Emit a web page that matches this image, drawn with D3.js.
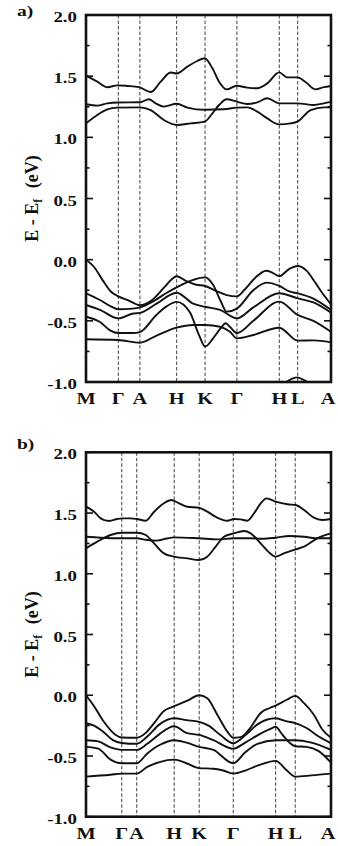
<!DOCTYPE html>
<html><head><meta charset="utf-8">
<script src="https://cdn.jsdelivr.net/npm/d3@7"></script>
<style>html,body{margin:0;padding:0;background:#fff}</style>
</head><body>
<svg id="c" width="338" height="846"></svg>
<script>
// ---------- data ----------
const kLabels = ["M","Γ","A","H","K","Γ","H","L","A"];
const kPosA = [0, 0.132, 0.220, 0.370, 0.486, 0.616, 0.789, 0.864, 1.0];
const kPosB = [0, 0.146, 0.207, 0.360, 0.462, 0.601, 0.774, 0.854, 1.0];
const yTicks = [2.0, 1.5, 1.0, 0.5, 0.0, -0.5, -1.0];
const yMinor = [1.75, 1.25, 0.75, 0.25, -0.25, -0.75];
const eRange = [-1.0, 2.0];

// panel a
const aCond3 = [[0,1.505],[0.046,1.455],[0.087,1.41],[0.128,1.425],[0.169,1.42],[0.216,1.41],[0.264,1.37],[0.305,1.455],[0.346,1.53],[0.370,1.522],[0.414,1.578],[0.454,1.624],[0.484,1.646],[0.516,1.564],[0.543,1.455],[0.574,1.392],[0.615,1.422],[0.658,1.406],[0.699,1.401],[0.740,1.441],[0.788,1.531],[0.822,1.49],[0.863,1.49],[0.897,1.45],[0.937,1.392],[0.971,1.41],[1.0,1.42]];
const aCond2 = [[0,1.27],[0.046,1.259],[0.087,1.278],[0.128,1.285],[0.220,1.287],[0.257,1.311],[0.284,1.278],[0.318,1.251],[0.370,1.274],[0.414,1.243],[0.484,1.225],[0.563,1.229],[0.615,1.243],[0.658,1.245],[0.699,1.21],[0.740,1.155],[0.788,1.106],[0.835,1.114],[0.863,1.128],[0.917,1.223],[0.971,1.245],[1.0,1.245]];
const aCond1 = [[0,1.114],[0.046,1.183],[0.087,1.229],[0.128,1.243],[0.220,1.245],[0.264,1.223],[0.318,1.142],[0.370,1.101],[0.427,1.114],[0.484,1.128],[0.516,1.196],[0.543,1.264],[0.574,1.311],[0.615,1.292],[0.658,1.272],[0.699,1.286],[0.740,1.319],[0.788,1.278],[0.863,1.278],[0.930,1.264],[0.971,1.278],[1.0,1.29]];
const aVal1 = [[0,0.0],[0.033,-0.06],[0.067,-0.165],[0.101,-0.26],[0.132,-0.30],[0.17,-0.33],[0.22,-0.372],[0.27,-0.33],[0.32,-0.225],[0.35,-0.16],[0.37,-0.135],[0.41,-0.175],[0.45,-0.205],[0.486,-0.215],[0.53,-0.255],[0.575,-0.29],[0.616,-0.30],[0.65,-0.24],[0.69,-0.15],[0.735,-0.09],[0.76,-0.105],[0.789,-0.135],[0.83,-0.075],[0.864,-0.052],[0.9,-0.09],[0.93,-0.17],[0.96,-0.26],[1.0,-0.365]];
const aVal2 = [[0,-0.275],[0.057,-0.33],[0.1,-0.38],[0.132,-0.405],[0.19,-0.40],[0.22,-0.39],[0.275,-0.34],[0.33,-0.27],[0.37,-0.226],[0.438,-0.165],[0.486,-0.145],[0.52,-0.21],[0.55,-0.34],[0.574,-0.425],[0.616,-0.40],[0.683,-0.25],[0.737,-0.188],[0.789,-0.215],[0.833,-0.262],[0.864,-0.275],[0.93,-0.32],[1.0,-0.41]];
const aVal3 = [[0,-0.37],[0.057,-0.41],[0.132,-0.48],[0.193,-0.44],[0.22,-0.435],[0.288,-0.36],[0.37,-0.27],[0.438,-0.36],[0.486,-0.385],[0.547,-0.41],[0.616,-0.48],[0.683,-0.39],[0.789,-0.275],[0.864,-0.316],[0.928,-0.35],[1.0,-0.433]];
const aVal4 = [[0,-0.466],[0.057,-0.51],[0.1,-0.58],[0.132,-0.60],[0.19,-0.60],[0.22,-0.592],[0.288,-0.45],[0.33,-0.38],[0.37,-0.345],[0.424,-0.43],[0.46,-0.61],[0.486,-0.71],[0.52,-0.64],[0.55,-0.56],[0.57,-0.52],[0.59,-0.555],[0.616,-0.60],[0.683,-0.50],[0.789,-0.343],[0.864,-0.452],[0.928,-0.50],[1.0,-0.59]];
const aVal5 = [[0,-0.651],[0.132,-0.657],[0.22,-0.679],[0.288,-0.62],[0.37,-0.556],[0.438,-0.534],[0.486,-0.534],[0.547,-0.548],[0.588,-0.59],[0.616,-0.643],[0.683,-0.616],[0.789,-0.556],[0.864,-0.662],[0.928,-0.66],[1.0,-0.676]];
const aDeep = [[0.80,-1.03],[0.83,-0.985],[0.86,-0.962],[0.89,-0.985],[0.92,-1.03]];

// panel b
const bCond3 = [[0,1.552],[0.033,1.511],[0.06,1.456],[0.094,1.434],[0.128,1.451],[0.148,1.456],[0.182,1.456],[0.207,1.451],[0.244,1.437],[0.278,1.511],[0.318,1.58],[0.348,1.607],[0.38,1.58],[0.414,1.552],[0.461,1.544],[0.495,1.511],[0.536,1.462],[0.577,1.437],[0.604,1.451],[0.631,1.448],[0.658,1.437],[0.686,1.498],[0.713,1.58],[0.737,1.621],[0.774,1.594],[0.822,1.572],[0.856,1.566],[0.89,1.525],[0.93,1.462],[0.964,1.443],[1.0,1.451]];
const bCond2 = [[0,1.209],[0.046,1.264],[0.1,1.319],[0.148,1.338],[0.207,1.338],[0.244,1.319],[0.278,1.25],[0.318,1.168],[0.359,1.141],[0.414,1.127],[0.461,1.113],[0.495,1.141],[0.529,1.223],[0.563,1.305],[0.604,1.333],[0.645,1.352],[0.672,1.333],[0.713,1.25],[0.747,1.176],[0.774,1.141],[0.808,1.168],[0.856,1.201],[0.89,1.223],[0.944,1.292],[1.0,1.333]];
const bCond1 = [[0,1.305],[0.06,1.297],[0.148,1.292],[0.207,1.292],[0.244,1.28],[0.29,1.273],[0.33,1.29],[0.359,1.30],[0.461,1.292],[0.536,1.283],[0.604,1.292],[0.672,1.292],[0.72,1.288],[0.774,1.297],[0.83,1.311],[0.89,1.305],[0.944,1.292],[1.0,1.292]];
const bVal1 = [[0,0.0],[0.033,-0.09],[0.07,-0.21],[0.12,-0.325],[0.146,-0.348],[0.207,-0.35],[0.244,-0.31],[0.278,-0.23],[0.318,-0.13],[0.348,-0.10],[0.36,-0.09],[0.414,-0.045],[0.462,0.0],[0.495,-0.025],[0.536,-0.16],[0.577,-0.30],[0.601,-0.35],[0.631,-0.345],[0.67,-0.27],[0.713,-0.146],[0.75,-0.105],[0.774,-0.085],[0.822,-0.035],[0.854,-0.005],[0.89,-0.065],[0.93,-0.16],[0.964,-0.28],[1.0,-0.35]];
const bVal2 = [[0,-0.23],[0.033,-0.25],[0.07,-0.30],[0.11,-0.37],[0.146,-0.393],[0.207,-0.40],[0.25,-0.34],[0.30,-0.24],[0.36,-0.19],[0.41,-0.205],[0.462,-0.22],[0.50,-0.25],[0.55,-0.33],[0.601,-0.395],[0.65,-0.33],[0.70,-0.24],[0.774,-0.19],[0.82,-0.215],[0.854,-0.23],[0.9,-0.27],[0.95,-0.34],[1.0,-0.396]];
const bVal3 = [[0,-0.37],[0.05,-0.38],[0.1,-0.43],[0.146,-0.45],[0.207,-0.45],[0.25,-0.40],[0.30,-0.32],[0.36,-0.255],[0.41,-0.31],[0.462,-0.327],[0.52,-0.37],[0.601,-0.44],[0.65,-0.39],[0.70,-0.33],[0.75,-0.28],[0.774,-0.26],[0.80,-0.32],[0.83,-0.39],[0.854,-0.42],[0.9,-0.425],[0.95,-0.46],[1.0,-0.555]];
const bVal4 = [[0,-0.425],[0.05,-0.44],[0.1,-0.53],[0.146,-0.56],[0.207,-0.56],[0.25,-0.48],[0.30,-0.41],[0.36,-0.37],[0.41,-0.39],[0.462,-0.425],[0.52,-0.45],[0.601,-0.56],[0.65,-0.47],[0.70,-0.40],[0.774,-0.37],[0.854,-0.37],[0.92,-0.39],[1.0,-0.45]];
const bVal5 = [[0,-0.67],[0.1,-0.655],[0.146,-0.645],[0.207,-0.645],[0.25,-0.59],[0.30,-0.55],[0.36,-0.53],[0.41,-0.56],[0.462,-0.60],[0.52,-0.605],[0.56,-0.62],[0.601,-0.645],[0.65,-0.62],[0.70,-0.58],[0.774,-0.54],[0.82,-0.62],[0.854,-0.67],[0.92,-0.66],[1.0,-0.645]];

// ---------- drawing ----------
const svg = d3.select("#c");
const FONT = "Liberation Serif, Times New Roman, serif";
const SX = 1.3;

function panel(o) {
  const x = d3.scaleLinear().domain([0, 1]).range([86, 331]);
  const y = d3.scaleLinear().domain(eRange).range([o.bottom, o.top]);
  const g = svg.append("g");
  const cid = "clip" + o.name;
  g.append("clipPath").attr("id", cid).append("rect")
    .attr("x", x(0)).attr("y", y(eRange[1])).attr("width", x(1) - x(0)).attr("height", y(eRange[0]) - y(eRange[1]));

  // dashed verticals
  g.selectAll("line.v").data(o.kPos.slice(1, -1)).join("line")
    .attr("x1", d => x(d)).attr("x2", d => x(d))
    .attr("y1", y(eRange[1])).attr("y2", y(eRange[0]))
    .attr("stroke", "#111").attr("stroke-width", 0.8).attr("stroke-dasharray", "3.5,2");

  // bands
  const line = d3.line().x(d => x(d[0])).y(d => y(d[1])).curve(d3.curveMonotoneX);
  g.append("g").attr("clip-path", `url(#${cid})`)
    .selectAll("path").data(o.bands).join("path")
    .attr("d", line).attr("fill", "none").attr("stroke", "#111").attr("stroke-width", 1.9)
    .attr("stroke-linejoin", "round");

  // ticks
  const tk = (vals, len) => {
    [[x(0), 1], [x(1), -1]].forEach(([xx, dir]) => {
      g.selectAll(null).data(vals).join("line")
        .attr("x1", xx).attr("x2", xx + dir * len)
        .attr("y1", d => y(d)).attr("y2", d => y(d))
        .attr("stroke", "#111").attr("stroke-width", 1.6);
    });
  };
  tk(yTicks, 7);
  tk(yMinor, 3.5);

  // frame
  g.append("rect").attr("x", x(0)).attr("y", y(eRange[1]))
    .attr("width", x(1) - x(0)).attr("height", y(eRange[0]) - y(eRange[1]))
    .attr("fill", "none").attr("stroke", "#111").attr("stroke-width", 2.6);

  // tick labels
  g.selectAll("text.yl").data(yTicks).join("text")
    .attr("transform", d => `translate(77,${y(d) + 2}) scale(${SX},1)`)
    .attr("text-anchor", "end").attr("dy", "0.35em")
    .attr("font-family", FONT).attr("font-weight", "bold").attr("font-size", 14.5)
    .attr("fill", "#111")
    .text(d => d.toFixed(1));

  // k labels
  g.selectAll("text.kl").data(o.kPos).join("text")
    .attr("transform", (d, i) => `translate(${i === o.kPos.length - 1 ? x(d) - 3 : x(d)},${y(eRange[0]) + 22}) scale(${SX * 0.95},1)`)
    .attr("text-anchor", "middle")
    .attr("font-family", FONT).attr("font-weight", "bold").attr("font-size", 16.5)
    .attr("fill", "#111")
    .text((d, i) => kLabels[i]);

  // axis title
  const cy = (y(eRange[0]) + y(eRange[1])) / 2;
  const t = g.append("text")
    .attr("transform", `translate(38,${cy}) scale(1.1,1) rotate(-90)`)
    .attr("text-anchor", "middle")
    .attr("font-family", FONT).attr("font-weight", "bold").attr("font-size", 18)
    .attr("fill", "#111");
  t.append("tspan").text("E - E");
  t.append("tspan").attr("font-size", 12).attr("dy", 4).text("f");
  t.append("tspan").attr("dy", -4).attr("dx", 6).text("   (eV)");

  // panel label
  g.append("text")
    .attr("transform", `translate(17,${o.labelY}) scale(${SX},1)`)
    .attr("font-family", FONT).attr("font-weight", "bold").attr("font-size", 15)
    .attr("fill", "#111").text(o.label);
}

panel({ name: "a", top: 15, bottom: 382, kPos: kPosA, label: "a)", labelY: 16,
  bands: [aCond3, aCond2, aCond1, aVal1, aVal2, aVal3, aVal4, aVal5, aDeep] });
panel({ name: "b", top: 452.3, bottom: 816.7, kPos: kPosB, label: "b)", labelY: 449,
  bands: [bCond3, bCond2, bCond1, bVal1, bVal2, bVal3, bVal4, bVal5] });
</script>
</body></html>
